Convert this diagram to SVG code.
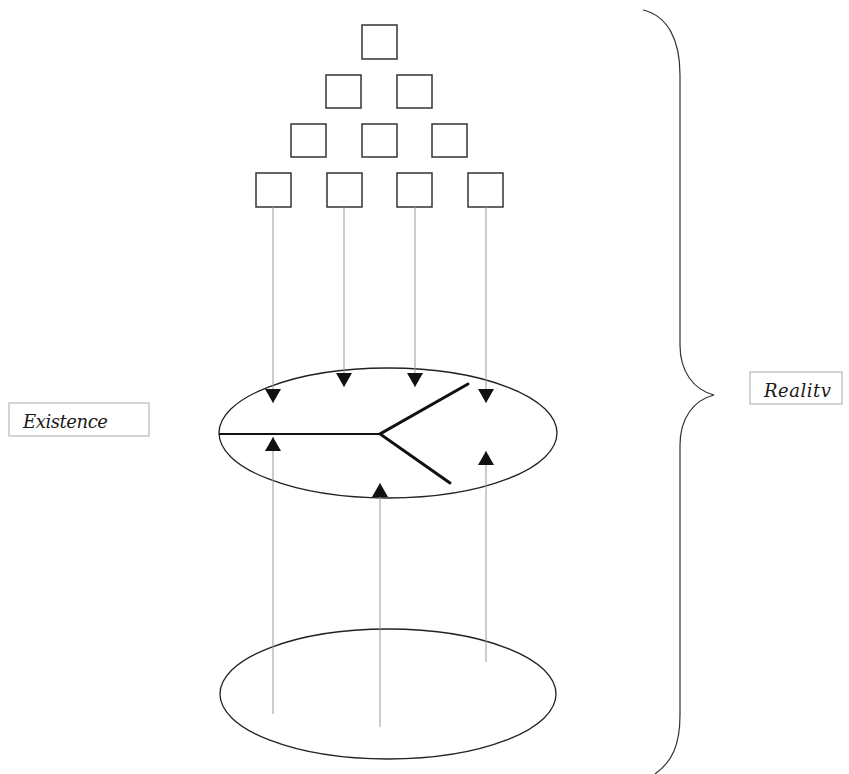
<svg xmlns="http://www.w3.org/2000/svg" width="849" height="774" viewBox="0 0 849 774">
<style>
.sq{fill:#fff;stroke:#333;stroke-width:1.5}
.conn{stroke:#999;stroke-width:1;fill:none}
.ell{fill:none;stroke:#222;stroke-width:1.3}
.br{stroke:#111;stroke-width:3;fill:none;stroke-linecap:round}
.lbl{fill:#fff;stroke:#aaa;stroke-width:1}
.txt{font-family:"DejaVu Serif","Liberation Serif",serif;font-style:italic;font-size:18px;fill:#1a1a1a}
</style>
<defs>
<marker id="ah" viewBox="0 0 14 16" refX="14" refY="8" markerWidth="14" markerHeight="16" markerUnits="userSpaceOnUse" orient="auto">
<path d="M0,0 L14,8 L0,16 z" fill="#111"/>
</marker>
</defs>
<rect width="849" height="774" fill="#fff"/>
<g id="squares">
<g id="s1"><rect class="sq" x="362" y="25" width="35" height="34"/></g>
<g id="s2"><rect class="sq" x="326" y="75" width="35" height="33"/></g>
<g id="s3"><rect class="sq" x="397" y="75" width="35" height="33"/></g>
<g id="s4"><rect class="sq" x="291" y="124" width="35" height="33"/></g>
<g id="s5"><rect class="sq" x="362" y="124" width="35" height="33"/></g>
<g id="s6"><rect class="sq" x="432" y="124" width="35" height="33"/></g>
<g id="s7"><rect class="sq" x="256" y="173" width="35" height="34"/></g>
<g id="s8"><rect class="sq" x="327" y="173" width="35" height="34"/></g>
<g id="s9"><rect class="sq" x="397" y="173" width="35" height="34"/></g>
<g id="s10"><rect class="sq" x="468" y="173" width="35" height="34"/></g>
</g>
<g id="existence-ellipse">
<ellipse class="ell" cx="388" cy="433" rx="169" ry="65"/>
<line x1="219" y1="434" x2="380" y2="434" stroke="#111" stroke-width="2.2"/>
<path class="br" d="M468,384 L380,434 L450,483"/>
</g>
<g id="base-ellipse">
<ellipse class="ell" cx="388" cy="694" rx="168" ry="65"/>
</g>
<g id="connectors">
<line class="conn" x1="273" y1="207" x2="273" y2="403" marker-end="url(#ah)"/>
<line class="conn" x1="344" y1="207" x2="344" y2="387" marker-end="url(#ah)"/>
<line class="conn" x1="415" y1="207" x2="415" y2="387" marker-end="url(#ah)"/>
<line class="conn" x1="486" y1="207" x2="486" y2="403" marker-end="url(#ah)"/>
<line class="conn" x1="273" y1="714" x2="273" y2="437" marker-end="url(#ah)"/>
<line class="conn" x1="380" y1="727" x2="380" y2="483" marker-end="url(#ah)"/>
<line class="conn" x1="486" y1="662" x2="486" y2="451" marker-end="url(#ah)"/>
</g>
<g id="brace">
<path d="M643,10 C668,16 680,40 680,75 L680,345 C680,372 694,390 714,395 C694,400 680,418 680,445 L680,715 C680,745 672,762 655,774" fill="none" stroke="#333" stroke-width="1.2"/>
</g>
<g id="existence">
<rect class="lbl" x="9" y="403" width="140" height="33"/>
<text class="txt" x="23" y="428" textLength="85" lengthAdjust="spacing">Existence</text>
</g>
<g id="reality">
<rect class="lbl" x="750" y="372" width="92" height="32"/>
<text class="txt" x="764" y="397" textLength="67" lengthAdjust="spacing">Realitv</text>
</g>
</svg>
